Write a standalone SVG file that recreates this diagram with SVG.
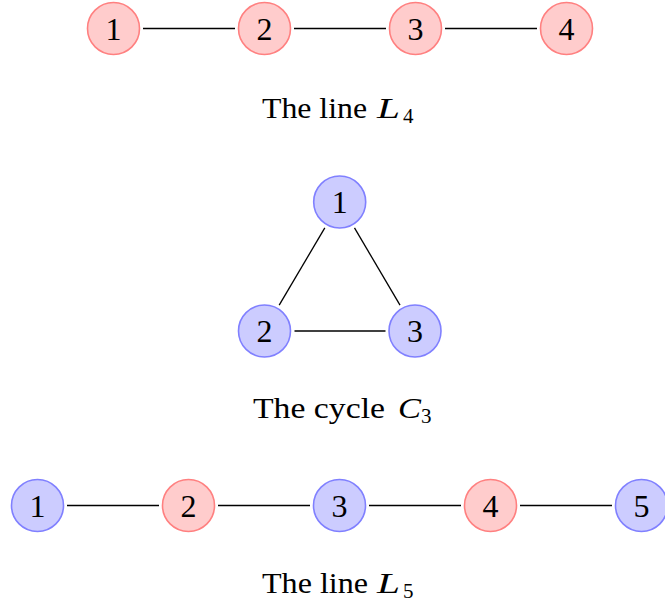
<svg xmlns="http://www.w3.org/2000/svg" width="665" height="609" viewBox="0 0 665 609">
<style>
.r circle{fill:#ffcccc;stroke:#ff8080;stroke-width:1.6}
.b circle{fill:#ccccff;stroke:#8080ff;stroke-width:1.6}
.n text{font-family:"Liberation Serif","DejaVu Serif",serif;font-size:32px;text-anchor:middle;fill:#000}
.lab{font-family:"Liberation Serif","DejaVu Serif",serif;font-size:30px;fill:#000}
.it{font-style:italic}
.sub{font-size:21px}
#edges line{stroke:#000;stroke-width:1.3}
</style>
<rect width="665" height="609" fill="#fff"/>
<g id="edges">
<line x1="143" y1="28.5" x2="235" y2="28.5"/>
<line x1="294" y1="28.5" x2="386" y2="28.5"/>
<line x1="445" y1="28.5" x2="537" y2="28.5"/>
<line x1="324.8" y1="227.9" x2="279.2" y2="305.1"/>
<line x1="354.5" y1="227.9" x2="400" y2="305.1"/>
<line x1="294.5" y1="331" x2="385.5" y2="331"/>
<line x1="67" y1="505.5" x2="159" y2="505.5"/>
<line x1="218" y1="505.5" x2="310" y2="505.5"/>
<line x1="369" y1="505.5" x2="461" y2="505.5"/>
<line x1="520" y1="505.5" x2="612" y2="505.5"/>
</g>
<g id="L4-1" class="n r"><circle cx="113.5" cy="28.5" r="26"/><text x="113.5" y="39.5">1</text></g>
<g id="L4-2" class="n r"><circle cx="264.5" cy="28.5" r="26"/><text x="264.5" y="39.5">2</text></g>
<g id="L4-3" class="n r"><circle cx="415.5" cy="28.5" r="26"/><text x="415.5" y="39.5">3</text></g>
<g id="L4-4" class="n r"><circle cx="566.5" cy="28.5" r="26"/><text x="566.5" y="39.5">4</text></g>
<g id="C3-1" class="n b"><circle cx="339.7" cy="202" r="26"/><text x="339.7" y="213">1</text></g>
<g id="C3-2" class="n b"><circle cx="264.5" cy="331" r="26"/><text x="264.5" y="342">2</text></g>
<g id="C3-3" class="n b"><circle cx="415" cy="331" r="26"/><text x="415" y="342">3</text></g>
<g id="L5-1" class="n b"><circle cx="37.5" cy="505.5" r="26"/><text x="37.5" y="516.5">1</text></g>
<g id="L5-2" class="n r"><circle cx="188.5" cy="505.5" r="26"/><text x="188.5" y="516.5">2</text></g>
<g id="L5-3" class="n b"><circle cx="339.5" cy="505.5" r="26"/><text x="339.5" y="516.5">3</text></g>
<g id="L5-4" class="n r"><circle cx="490.5" cy="505.5" r="26"/><text x="490.5" y="516.5">4</text></g>
<g id="L5-5" class="n b"><circle cx="641.5" cy="505.5" r="26"/><text x="641.5" y="516.5">5</text></g>
<g id="label-L4">
<text class="lab" x="262" y="118" textLength="105" lengthAdjust="spacingAndGlyphs">The line</text>
<text class="lab it" x="377" y="118" textLength="23" lengthAdjust="spacingAndGlyphs">L</text>
<text class="lab sub" x="403" y="123">4</text>
</g>
<g id="label-C3">
<text class="lab" x="253" y="418" textLength="132" lengthAdjust="spacingAndGlyphs">The cycle</text>
<text class="lab it" x="398" y="418" textLength="23" lengthAdjust="spacingAndGlyphs">C</text>
<text class="lab sub" x="421" y="423">3</text>
</g>
<g id="label-L5">
<text class="lab" x="262" y="593" textLength="106" lengthAdjust="spacingAndGlyphs">The line</text>
<text class="lab it" x="377" y="593" textLength="23" lengthAdjust="spacingAndGlyphs">L</text>
<text class="lab sub" x="403" y="598">5</text>
</g>
</svg>
